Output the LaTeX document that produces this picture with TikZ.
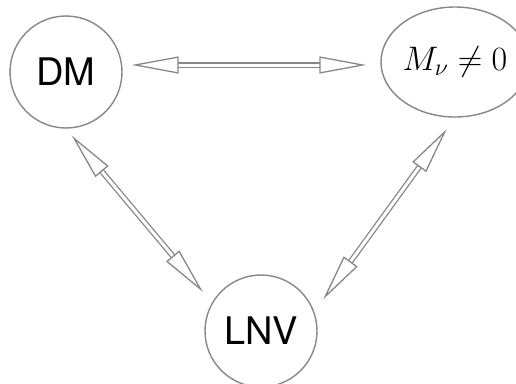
\RequirePackage{fix-cm}
\documentclass[tikz,border=0pt]{standalone}
\usepackage{fontspec}
\setsansfont{TeX Gyre Heros}
\usetikzlibrary{arrows.meta,shapes.geometric}
\definecolor{linegray}{RGB}{135,135,135}

\begin{document}
\begin{tikzpicture}[x=1pt,y=1pt]
\tikzstyle{every node}+=[inner sep=0pt]
\tikzstyle{blob}=[circle,draw=linegray,line width=1.4pt,minimum size=112pt,font=\sffamily\fontsize{38}{40}\selectfont]
\tikzstyle{dblarrow}=[draw=linegray,line width=1.3pt,double,double distance=3pt,
  {Triangle[open,length=47pt,width=17pt]}-{Triangle[open,length=47pt,width=17pt]}]
\useasboundingbox (0,0) rectangle (516,-383);
\node [blob] (DM) at (66,-72) {DM};
\node [blob] (LNV) at (261,-331) {LNV};
\node [ellipse,draw=linegray,line width=1.4pt,minimum width=128pt,minimum height=110pt,
  font=\fontsize{34}{36}\selectfont] (Mnu) at (455,-62) {$M_\nu\neq0$};
\draw [dblarrow,shorten <=9pt,shorten >=14pt] ([yshift=7pt]DM.east) -- ([yshift=-3pt]Mnu.west);
\draw [dblarrow,shorten <=9pt,shorten >=14pt] (DM.south) -- (LNV.150);
\draw [dblarrow,shorten <=14pt,shorten >=15pt] (Mnu.south) -- (LNV.20);
\end{tikzpicture}
\end{document}
